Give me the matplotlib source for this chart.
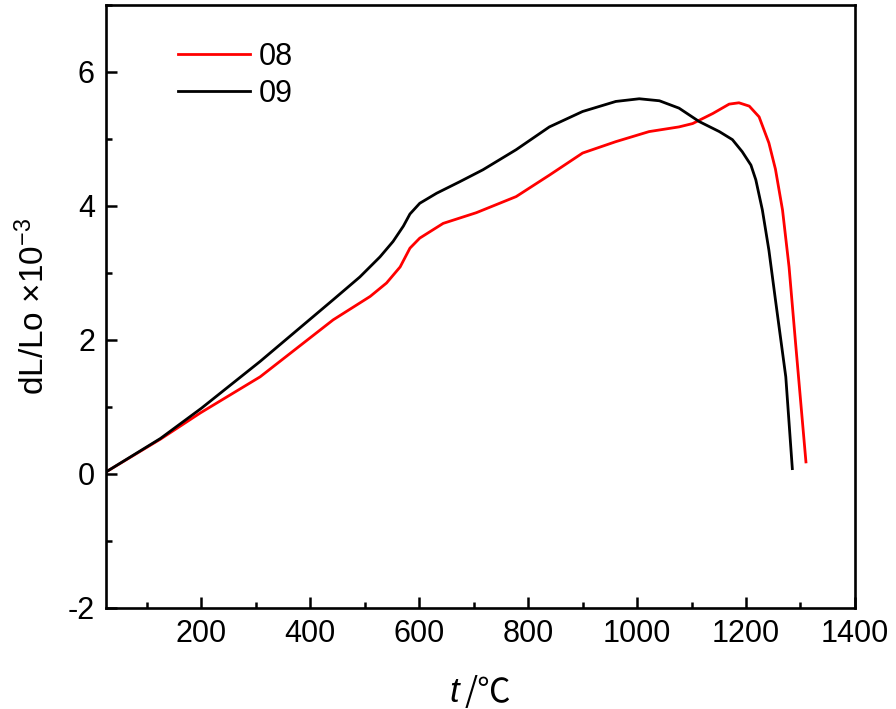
import matplotlib
matplotlib.use("Agg")
import matplotlib.pyplot as plt
from matplotlib.ticker import MultipleLocator

plt.rcParams['font.family'] = ['Liberation Sans', 'Noto Sans CJK SC', 'DejaVu Sans']
plt.rcParams['mathtext.fontset'] = 'custom'
plt.rcParams['mathtext.rm'] = 'Liberation Sans'
plt.rcParams['mathtext.it'] = 'Liberation Sans:italic'
plt.rcParams['axes.unicode_minus'] = False

t_08 = [25, 125, 198, 308, 442, 510, 540, 565, 583, 601, 644, 705, 778, 839, 900, 961,
        1022, 1077, 1102, 1139, 1169, 1187, 1206, 1224, 1242, 1254, 1267, 1279, 1291, 1310]
dl_08 = [0.03, 0.52, 0.91, 1.45, 2.30, 2.65, 2.85, 3.09, 3.37, 3.52, 3.74, 3.90, 4.14, 4.46, 4.79, 4.96,
         5.11, 5.18, 5.23, 5.38, 5.52, 5.54, 5.49, 5.33, 4.94, 4.55, 3.94, 3.09, 1.95, 0.18]

t_09 = [25, 125, 200, 308, 442, 491, 528, 552, 571, 583, 601, 632, 674, 717, 778, 839, 900, 961,
        1004, 1041, 1077, 1114, 1151, 1175, 1193, 1209, 1218, 1230, 1242, 1254, 1273, 1285]
dl_09 = [0.03, 0.53, 0.98, 1.68, 2.60, 2.94, 3.24, 3.47, 3.70, 3.88, 4.04, 4.19, 4.36, 4.54, 4.84, 5.18, 5.41, 5.56,
         5.60, 5.57, 5.46, 5.26, 5.11, 4.99, 4.81, 4.61, 4.39, 3.94, 3.34, 2.60, 1.45, 0.08]

x_ticks = [200, 400, 600, 800, 1000, 1200, 1400]
y_ticks = [-2, 0, 2, 4, 6]

fig = plt.figure(figsize=(8.96, 7.09), dpi=100)
ax = fig.add_axes([0.1183, 0.1425, 0.9542 - 0.1183, 0.993 - 0.1425])

ax.plot(t_08, dl_08, color='#ff0000', lw=2.0, label='08', solid_joinstyle='round')
ax.plot(t_09, dl_09, color='black', lw=2.0, label='09', solid_joinstyle='round')

ax.set_xlim(25, 1400)
ax.set_ylim(-2, 7)
ax.set_xticks(x_ticks)
ax.set_yticks(y_ticks)
ax.xaxis.set_minor_locator(MultipleLocator(100))
ax.yaxis.set_minor_locator(MultipleLocator(1))
ax.tick_params(which='both', direction='in', top=False, right=False, width=1.8)
ax.tick_params(which='major', length=8, labelsize=22, pad=8)
ax.tick_params(which='minor', length=4.5)
for s in ax.spines.values():
    s.set_linewidth(1.9)

ax.set_ylabel('dL/Lo ×10$^{-3}$', fontsize=24, labelpad=12)

# x label: italic t followed by /℃
fig.text(449 / 896, 1 - 693 / 709, 't', fontsize=25, style='italic',
         family='Liberation Sans', ha='left', va='center')
fig.text(465 / 896, 1 - 693 / 709, '/℃', fontsize=24,
         family=['Noto Sans CJK SC', 'DejaVu Sans'], ha='left', va='center')

ax.legend(loc='upper left', bbox_to_anchor=(0.096, 0.939), frameon=False, fontsize=22,
          handlelength=2.35, handletextpad=0.3, labelspacing=0.23,
          borderpad=0, borderaxespad=0)

fig.savefig('out.png', dpi=100)
